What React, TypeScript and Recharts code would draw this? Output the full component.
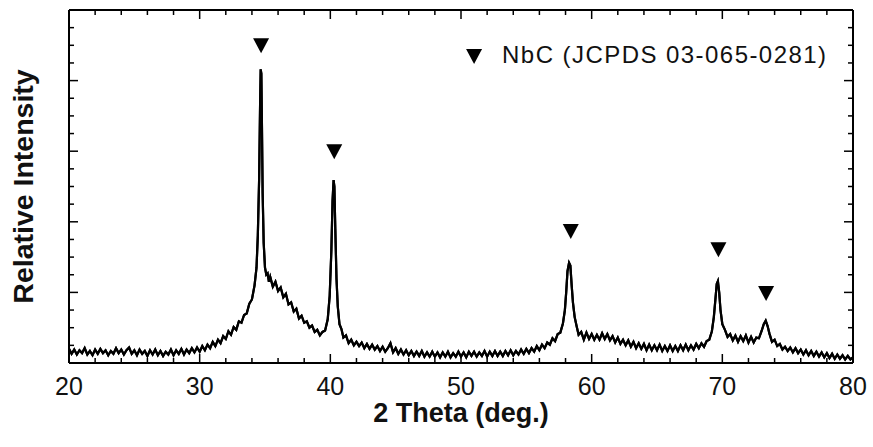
import React from 'react';
import { ComposedChart, Line, Scatter, XAxis, YAxis } from 'recharts';

// 2θ (deg.) / relative intensity pairs
const scan20to30: [number, number][] = [
  [20.0, 0.2], [20.2, 0.13], [20.4, 0.19], [20.6, 0.12], [20.8, 0.18], [21.0, 0.14], [21.2, 0.21], [21.4, 0.12],
  [21.6, 0.17], [21.8, 0.11], [22.0, 0.19], [22.2, 0.13], [22.4, 0.2], [22.6, 0.14], [22.8, 0.18], [23.0, 0.11],
  [23.2, 0.17], [23.4, 0.13], [23.6, 0.21], [23.8, 0.14], [24.0, 0.19], [24.2, 0.12], [24.4, 0.18], [24.6, 0.22],
  [24.8, 0.13], [25.0, 0.18], [25.2, 0.11], [25.4, 0.19], [25.6, 0.13], [25.8, 0.17], [26.0, 0.1], [26.2, 0.18],
  [26.4, 0.12], [26.6, 0.19], [26.8, 0.11], [27.0, 0.17], [27.2, 0.1], [27.4, 0.16], [27.6, 0.12], [27.8, 0.19],
  [28.0, 0.11], [28.2, 0.18], [28.4, 0.13], [28.6, 0.2], [28.8, 0.12], [29.0, 0.19], [29.2, 0.14], [29.4, 0.21],
  [29.6, 0.15], [29.8, 0.22], [30.0, 0.16],
];

const scan30to42: [number, number][] = [
  [30.2, 0.24], [30.4, 0.18], [30.6, 0.26], [30.8, 0.21], [31.0, 0.3], [31.2, 0.24], [31.4, 0.33], [31.6, 0.28],
  [31.8, 0.38], [32.0, 0.34], [32.2, 0.45], [32.4, 0.4], [32.6, 0.51], [32.8, 0.47], [33.0, 0.59], [33.2, 0.57],
  [33.4, 0.68], [33.6, 0.7], [33.8, 0.84], [34.0, 0.9], [34.2, 1.1], [34.35, 1.35], [34.45, 1.8], [34.55, 2.6],
  [34.62, 3.6], [34.67, 4.16], [34.72, 4.1], [34.77, 3.3], [34.82, 2.4], [34.9, 1.7], [35.0, 1.35], [35.1, 1.25],
  [35.2, 1.27], [35.3, 1.15], [35.4, 1.22], [35.6, 1.08], [35.8, 1.15], [36.0, 1.02], [36.2, 1.07], [36.4, 0.93],
  [36.6, 0.98], [36.8, 0.83], [37.0, 0.86], [37.2, 0.73], [37.4, 0.77], [37.6, 0.63], [37.8, 0.67], [38.0, 0.57],
  [38.2, 0.59], [38.4, 0.5], [38.6, 0.53], [38.8, 0.44], [39.0, 0.47], [39.2, 0.39], [39.4, 0.44], [39.6, 0.46],
  [39.8, 0.62], [39.95, 0.95], [40.08, 1.6], [40.17, 2.3], [40.25, 2.59], [40.31, 2.5], [40.38, 1.9], [40.47, 1.2],
  [40.57, 0.8], [40.7, 0.55], [40.85, 0.48], [41.0, 0.36], [41.2, 0.39], [41.4, 0.28], [41.6, 0.33], [41.8, 0.25],
  [42.0, 0.3],
];

const scan42to57: [number, number][] = [
  [42.2, 0.24], [42.4, 0.29], [42.6, 0.21], [42.8, 0.27], [43.0, 0.2], [43.2, 0.26], [43.4, 0.19], [43.6, 0.24],
  [43.8, 0.17], [44.0, 0.23], [44.2, 0.16], [44.4, 0.21], [44.6, 0.28], [44.8, 0.15], [45.0, 0.21], [45.2, 0.13],
  [45.4, 0.19], [45.6, 0.12], [45.8, 0.18], [46.0, 0.11], [46.2, 0.17], [46.4, 0.1], [46.6, 0.16], [46.8, 0.1],
  [47.0, 0.17], [47.2, 0.09], [47.4, 0.15], [47.6, 0.09], [47.8, 0.16], [48.0, 0.09], [48.2, 0.15], [48.4, 0.08],
  [48.6, 0.15], [48.8, 0.09], [49.0, 0.16], [49.2, 0.08], [49.4, 0.14], [49.6, 0.09], [49.8, 0.16], [50.0, 0.09],
  [50.2, 0.15], [50.4, 0.08], [50.6, 0.16], [50.8, 0.1], [51.0, 0.16], [51.2, 0.09], [51.4, 0.15], [51.6, 0.1],
  [51.8, 0.17], [52.0, 0.09], [52.2, 0.16], [52.4, 0.1], [52.6, 0.17], [52.8, 0.1], [53.0, 0.16], [53.2, 0.1],
  [53.4, 0.17], [53.6, 0.11], [53.8, 0.18], [54.0, 0.11], [54.2, 0.17], [54.4, 0.12], [54.6, 0.19], [54.8, 0.13],
  [55.0, 0.2], [55.2, 0.14], [55.4, 0.21], [55.6, 0.16], [55.8, 0.24], [56.0, 0.18], [56.2, 0.26], [56.4, 0.21],
  [56.6, 0.29], [56.8, 0.26], [57.0, 0.35],
];

const scan57to68: [number, number][] = [
  [57.2, 0.31], [57.4, 0.41], [57.6, 0.43], [57.8, 0.56], [57.95, 0.75], [58.05, 1.0], [58.15, 1.3], [58.27, 1.42],
  [58.37, 1.38], [58.47, 1.1], [58.57, 0.85], [58.7, 0.65], [58.85, 0.52], [59.0, 0.4], [59.2, 0.44], [59.4, 0.33],
  [59.6, 0.43], [59.8, 0.34], [60.0, 0.41], [60.2, 0.33], [60.4, 0.4], [60.6, 0.33], [60.8, 0.42], [61.0, 0.34],
  [61.2, 0.41], [61.4, 0.32], [61.6, 0.38], [61.8, 0.29], [62.0, 0.36], [62.2, 0.27], [62.4, 0.33], [62.6, 0.25],
  [62.8, 0.32], [63.0, 0.23], [63.2, 0.3], [63.4, 0.21], [63.6, 0.28], [63.8, 0.2], [64.0, 0.27], [64.2, 0.18],
  [64.4, 0.26], [64.6, 0.18], [64.8, 0.25], [65.0, 0.18], [65.2, 0.26], [65.4, 0.17], [65.6, 0.24], [65.8, 0.17],
  [66.0, 0.25], [66.2, 0.17], [66.4, 0.24], [66.6, 0.17], [66.8, 0.25], [67.0, 0.18], [67.2, 0.26], [67.4, 0.18],
  [67.6, 0.25], [67.8, 0.19], [68.0, 0.27],
];

const scan68to80: [number, number][] = [
  [68.2, 0.21], [68.4, 0.28], [68.6, 0.23], [68.8, 0.31], [69.0, 0.33], [69.2, 0.45], [69.35, 0.65], [69.47, 0.9],
  [69.57, 1.12], [69.66, 1.16], [69.76, 1.0], [69.86, 0.75], [70.0, 0.55], [70.2, 0.47], [70.4, 0.37], [70.6, 0.41],
  [70.8, 0.32], [71.0, 0.39], [71.2, 0.3], [71.4, 0.38], [71.6, 0.31], [71.8, 0.39], [72.0, 0.29], [72.2, 0.37],
  [72.4, 0.29], [72.6, 0.36], [72.8, 0.35], [73.0, 0.45], [73.17, 0.55], [73.32, 0.6], [73.47, 0.52], [73.6, 0.42],
  [73.8, 0.3], [74.0, 0.33], [74.2, 0.24], [74.4, 0.27], [74.6, 0.19], [74.8, 0.23], [75.0, 0.17], [75.2, 0.22],
  [75.4, 0.15], [75.6, 0.21], [75.8, 0.14], [76.0, 0.19], [76.2, 0.12], [76.4, 0.18], [76.6, 0.11], [76.8, 0.17],
  [77.0, 0.1], [77.2, 0.16], [77.4, 0.09], [77.6, 0.15], [77.8, 0.08], [78.0, 0.14], [78.2, 0.07], [78.4, 0.13],
  [78.6, 0.06], [78.8, 0.12], [79.0, 0.06], [79.2, 0.11], [79.4, 0.05], [79.6, 0.1], [79.8, 0.05], [80.0, 0.08],
];

// NbC reflection markers
const peakPositions = [34.7, 40.3, 58.4, 69.7, 73.35];
const markerHeights = [4.5, 3.0, 1.87, 1.61, 0.99];

const legendLabel = 'NbC (JCPDS 03-065-0281)';
const legendPosition = { x: 51.0, y: 4.35 };

const xTicks = [20, 22, 24, 26, 28, 30, 32, 34, 36, 38, 40, 42, 44, 46, 48, 50, 52, 54, 56, 58, 60, 62, 64, 66, 68, 70, 72, 74, 76, 78, 80];
const xMajorTicks = [20, 30, 40, 50, 60, 70, 80];
const yTicks = [0, 0.25, 0.5, 0.75, 1, 1.25, 1.5, 1.75, 2, 2.25, 2.5, 2.75, 3, 3.25, 3.5, 3.75, 4, 4.25, 4.5, 4.75, 5];

const xTitle = '2 Theta (deg.)';
const yTitle = 'Relative Intensity';

const scan = [...scan20to30, ...scan30to42, ...scan42to57, ...scan57to68, ...scan68to80].map(([x, y]) => ({ x, y }));
const markers = peakPositions.map((x, i) => ({ x, y: markerHeights[i] }));
const legendData = [legendPosition];

const FONT = '"Liberation Sans", Arial, Helvetica, sans-serif';
const MAJOR = 9;
const MINOR = 5;

const isMajorX = (v: number) => xMajorTicks.includes(v);
const isMajorY = (v: number) => Number.isInteger(v);

const BottomTick = (props: any) => {
  const { x, y, payload } = props;
  const major = isMajorX(payload.value);
  return (
    <g>
      <line x1={x} x2={x} y1={y} y2={y - (major ? MAJOR : MINOR)} stroke="#000" strokeWidth={1.5} />
      {major && (
        <text x={x} y={y + 32} textAnchor="middle" fontSize={25} fontFamily={FONT} fill="#111">
          {payload.value}
        </text>
      )}
    </g>
  );
};

const TopTick = (props: any) => {
  const { x, y, payload } = props;
  const major = isMajorX(payload.value);
  return <line x1={x} x2={x} y1={y} y2={y + (major ? MAJOR : MINOR)} stroke="#000" strokeWidth={1.5} />;
};

const LeftTick = (props: any) => {
  const { x, y, payload } = props;
  const major = isMajorY(payload.value);
  return <line x1={x} x2={x + (major ? MAJOR : MINOR)} y1={y} y2={y} stroke="#000" strokeWidth={1.5} />;
};

const RightTick = (props: any) => {
  const { x, y, payload } = props;
  const major = isMajorY(payload.value);
  return <line x1={x} x2={x - (major ? MAJOR : MINOR)} y1={y} y2={y} stroke="#000" strokeWidth={1.5} />;
};

const DownTriangle = (props: any) => {
  const { cx, cy } = props;
  return <polygon points={`${cx - 8},${cy - 7} ${cx + 8},${cy - 7} ${cx},${cy + 8}`} fill="#000" />;
};

const LegendMark = (props: any) => {
  const { cx, cy } = props;
  return (
    <g>
      <polygon points={`${cx - 8},${cy - 7} ${cx + 8},${cy - 7} ${cx},${cy + 8}`} fill="#000" />
      <text x={cx + 28} y={cy + 7} fontSize={24} fontFamily={FONT} fill="#111" textLength={324}>
        {legendLabel}
      </text>
    </g>
  );
};

const axisLine = { stroke: '#000', strokeWidth: 2 };

export default function App() {
  return (
    <div style={{ position: 'absolute', left: 0, top: 0, width: 873, height: 447, background: '#fff' }}>
      <ComposedChart width={873} height={447} margin={{ top: 0, right: 0, bottom: 0, left: 0 }}>
        <XAxis
          xAxisId="bottom"
          dataKey="x"
          type="number"
          domain={[20, 80]}
          ticks={xTicks}
          interval={0}
          allowDataOverflow
          height={84}
          tickSize={0}
          tickMargin={0}
          tickLine={false}
          axisLine={axisLine}
          tick={<BottomTick />}
          label={{ value: xTitle, position: 'insideBottom', offset: 25, style: { fontSize: 27, fontWeight: 'bold', fontFamily: FONT, fill: '#111' } }}
        />
        <XAxis
          xAxisId="top"
          orientation="top"
          dataKey="x"
          type="number"
          domain={[20, 80]}
          ticks={xTicks}
          interval={0}
          allowDataOverflow
          height={10}
          tickSize={0}
          tickMargin={0}
          tickLine={false}
          axisLine={axisLine}
          tick={<TopTick />}
        />
        <YAxis
          yAxisId="left"
          dataKey="y"
          type="number"
          domain={[0, 5]}
          ticks={yTicks}
          interval={0}
          allowDataOverflow
          width={69}
          tickSize={0}
          tickMargin={0}
          tickLine={false}
          axisLine={axisLine}
          tick={<LeftTick />}
          label={{ value: yTitle, angle: -90, position: 'insideLeft', offset: 23, style: { textAnchor: 'middle', fontSize: 28.5, fontWeight: 'bold', fontFamily: FONT, fill: '#111' } }}
        />
        <YAxis
          yAxisId="right"
          orientation="right"
          dataKey="y"
          type="number"
          domain={[0, 5]}
          ticks={yTicks}
          interval={0}
          allowDataOverflow
          width={20}
          tickSize={0}
          tickMargin={0}
          tickLine={false}
          axisLine={axisLine}
          tick={<RightTick />}
        />
        <Line
          xAxisId="bottom"
          yAxisId="left"
          data={scan}
          dataKey="y"
          type="linear"
          stroke="#000"
          strokeWidth={2.2}
          strokeLinejoin="miter"
          dot={false}
          isAnimationActive={false}
        />
        <Line
          xAxisId="top"
          yAxisId="right"
          data={scan}
          dataKey="y"
          type="linear"
          stroke="#000"
          strokeWidth={2.2}
          strokeLinejoin="miter"
          dot={false}
          isAnimationActive={false}
        />
        <Scatter xAxisId="bottom" yAxisId="left" data={markers} dataKey="y" shape={<DownTriangle />} isAnimationActive={false} />
        <Scatter xAxisId="bottom" yAxisId="left" data={legendData} dataKey="y" shape={<LegendMark />} isAnimationActive={false} />
      </ComposedChart>
    </div>
  );
}
